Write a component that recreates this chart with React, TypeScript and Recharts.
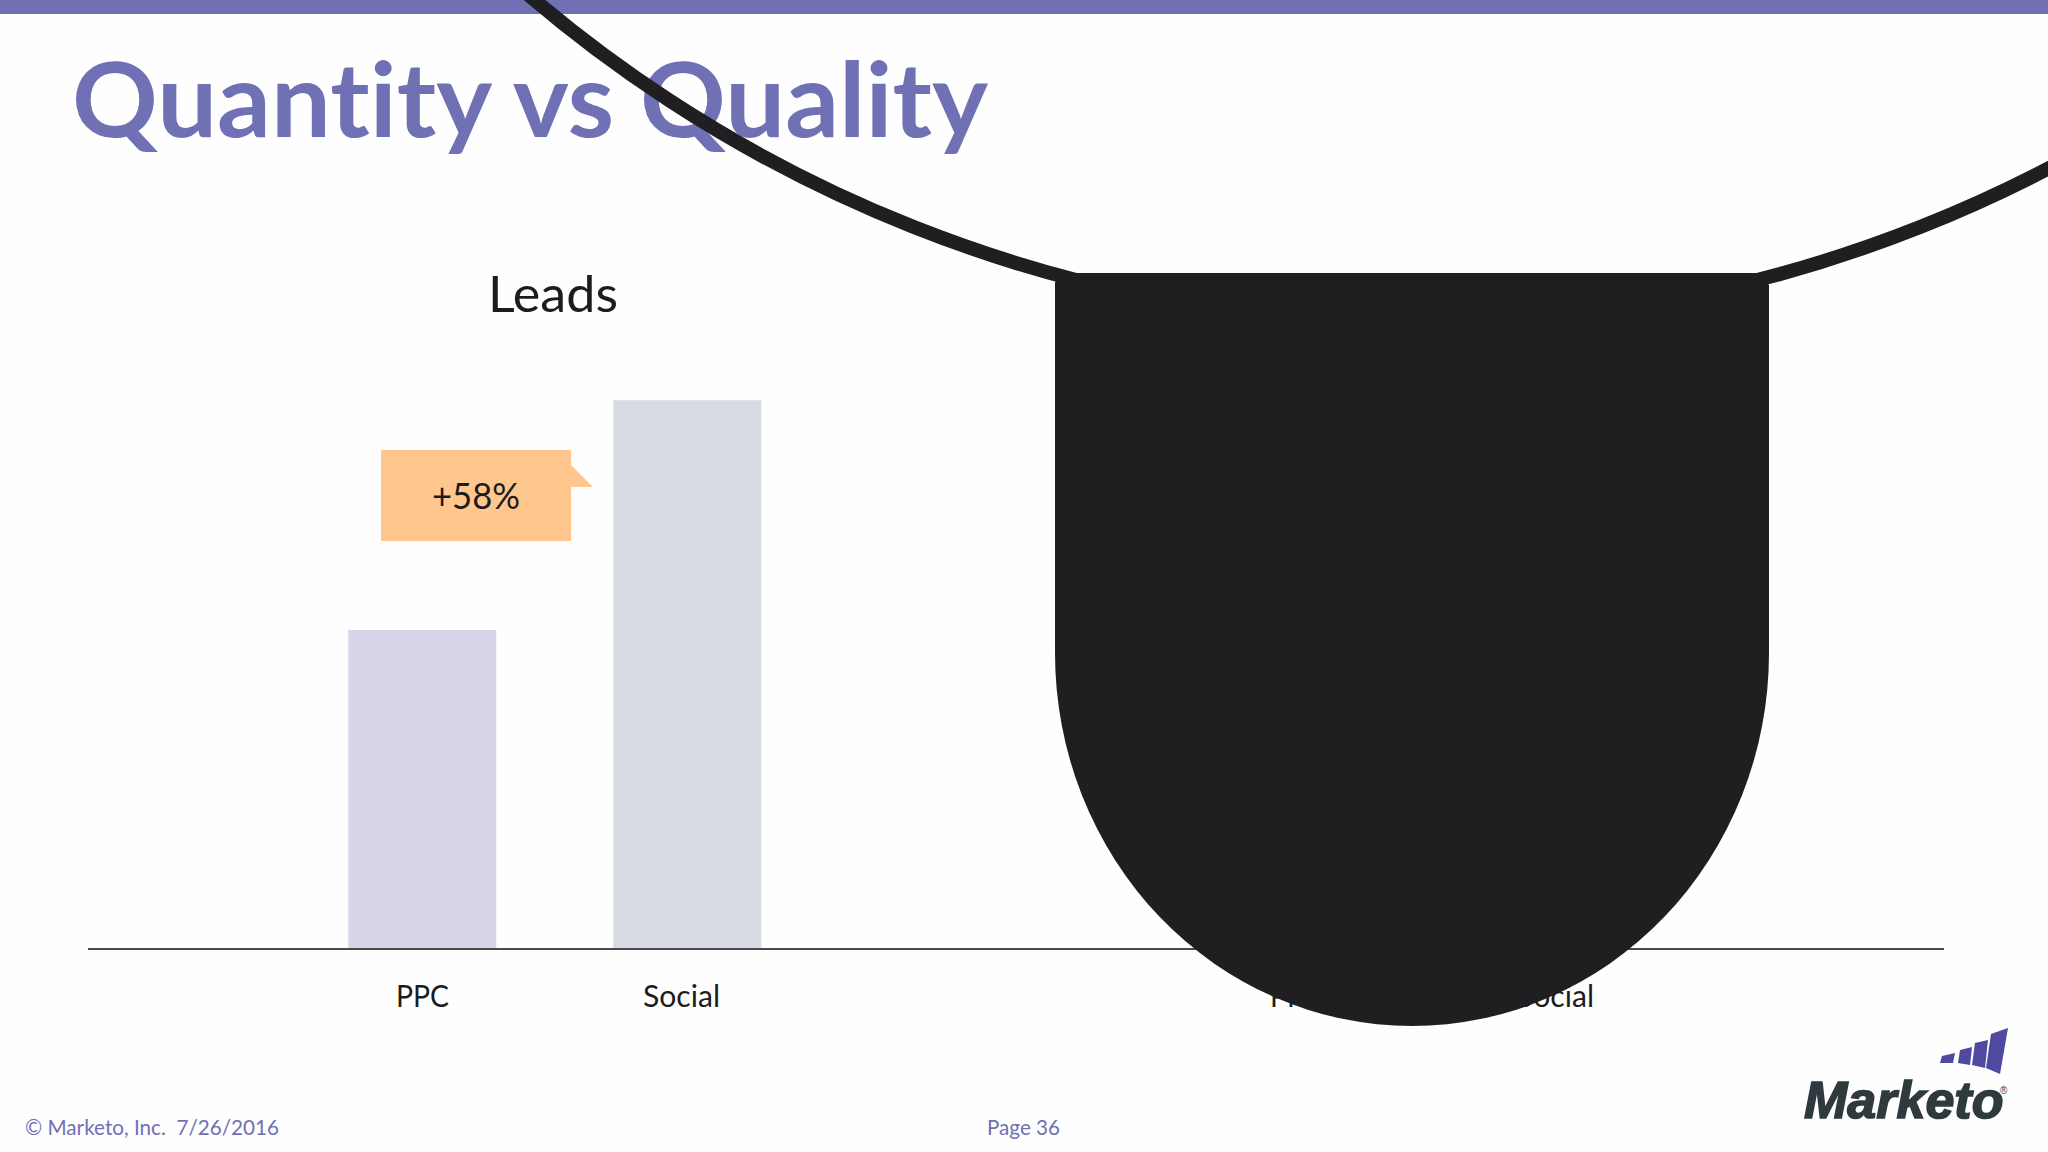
import { BarChart, Bar, XAxis, YAxis, Cell } from "recharts"

const categories = ["PPC", "Social"]
const leadValues = [100, 172]
// the right hand chart's bars are fully covered by the black shape, only its labels show
const hiddenValues = [null, null]
const barColors = ["#D6D4E6", "#D9DBE4"]

const leadsData = categories.map((name, i) => ({ name, value: leadValues[i] }))
const hiddenData = categories.map((name, i) => ({ name, value: hiddenValues[i] }))

const PURPLE = "#7070B4"
const INK = "#1F1E21"
const BODY_FONT = "Lato, sans-serif"

const CategoryTick = ({ x, y, payload }: any) => {
  const isSocial = payload.value === "Social"
  return (
    <text
      x={x + (isSocial ? -6 : 0)}
      y={y}
      dy={50}
      textAnchor="middle"
      fontFamily={BODY_FONT}
      fontSize={30}
      fill="#1c1c1c"
      textLength={isSocial ? 77 : 53}
      lengthAdjust="spacingAndGlyphs"
    >
      {payload.value}
    </text>
  )
}

function PanelChart({ data, left, padding }: { data: any[]; left: number; padding: { left: number; right: number } }) {
  return (
    <div style={{ position: "absolute", left, top: 311 }}>
      <BarChart
        width={928}
        height={720}
        data={data}
        margin={{ top: 0, right: 0, left: 0, bottom: 0 }}
        barCategoryGap="22%"
      >
        <YAxis hide domain={[0, 200]} />
        <XAxis
          dataKey="name"
          padding={padding}
          axisLine={{ stroke: "#4a4a4e", strokeWidth: 2 }}
          tickLine={false}
          height={82}
          interval={0}
          tick={<CategoryTick />}
        />
        <Bar dataKey="value" isAnimationActive={false}>
          {data.map((d, i) => (
            <Cell key={d.name} fill={barColors[i]} />
          ))}
        </Bar>
      </BarChart>
    </div>
  )
}

export default function App() {
  return (
    <div style={{ position: "fixed", left: 0, top: 0, width: 2048, height: 1152, background: "#FEFEFE", overflow: "hidden" }}>
      <PanelChart data={leadsData} left={88} padding={{ left: 202, right: 196 }} />
      <PanelChart data={hiddenData} left={1016} padding={{ left: 148, right: 250 }} />

      <svg width={2048} height={1152} style={{ position: "absolute", left: 0, top: 0 }}>
        <rect x={0} y={0} width={2048} height={14} fill={PURPLE} />

        <text x={72} y={137} fontFamily={BODY_FONT} fontWeight={700} fontSize={104} fill={PURPLE} textLength={916} lengthAdjust="spacingAndGlyphs" style={{ fontVariantLigatures: "none" }}>
          Quantity vs Quality
        </text>
        <text x={488} y={312} fontFamily={BODY_FONT} fontSize={51} fill="#1c1c1c" textLength={130} lengthAdjust="spacingAndGlyphs">
          Leads
        </text>

        <path d="M381 450 H571 V465 L593 487 H571 V541 H381 Z" fill="#FFC78E" />
        <text x={476} y={509} textAnchor="middle" fontFamily={BODY_FONT} fontSize={36} fill="#1c1c1c" textLength={88} lengthAdjust="spacingAndGlyphs">
          +58%
        </text>

        <text x={25} y={1135} fontFamily={BODY_FONT} fontSize={21} fill={PURPLE} textLength={254} lengthAdjust="spacingAndGlyphs" style={{ whiteSpace: "pre" }}>
          © Marketo, Inc.  7/26/2016
        </text>
        <text x={987} y={1135} fontFamily={BODY_FONT} fontSize={21} fill={PURPLE} textLength={73} lengthAdjust="spacingAndGlyphs">
          Page 36
        </text>

        {/* black shape lying over the right hand chart */}
        <circle cx={1417} cy={-1044} r={1367} fill="none" stroke={INK} strokeWidth={14} />
        <path d="M1077 273 H1757 L1769 285 V653 A357 373 0 0 1 1055 653 V282 Z" fill={INK} />

        {/* logo */}
        <polygon points="1942,1056 1955,1053 1953,1063 1940,1063" fill="#4F4AA0" />
        <polygon points="1960,1050 1972,1047 1970,1065 1958,1063" fill="#4F4AA0" />
        <polygon points="1975,1043 1988,1040 1985,1068 1972,1065" fill="#4F4AA0" />
        <polygon points="1991,1034 2008,1028 2000,1074 1986,1068" fill="#4F4AA0" />
        <text x={1804} y={1118} fontFamily="'Liberation Sans', sans-serif" fontStyle="italic" fontWeight={700} fontSize={52} fill="#2F3A3F" stroke="#2F3A3F" strokeWidth={1.6}>
          Marketo
        </text>
        <text x={2000} y={1094} fontFamily="'Liberation Sans', sans-serif" fontSize={10} fill="#2F3A3F">
          ®
        </text>
      </svg>
    </div>
  )
}
